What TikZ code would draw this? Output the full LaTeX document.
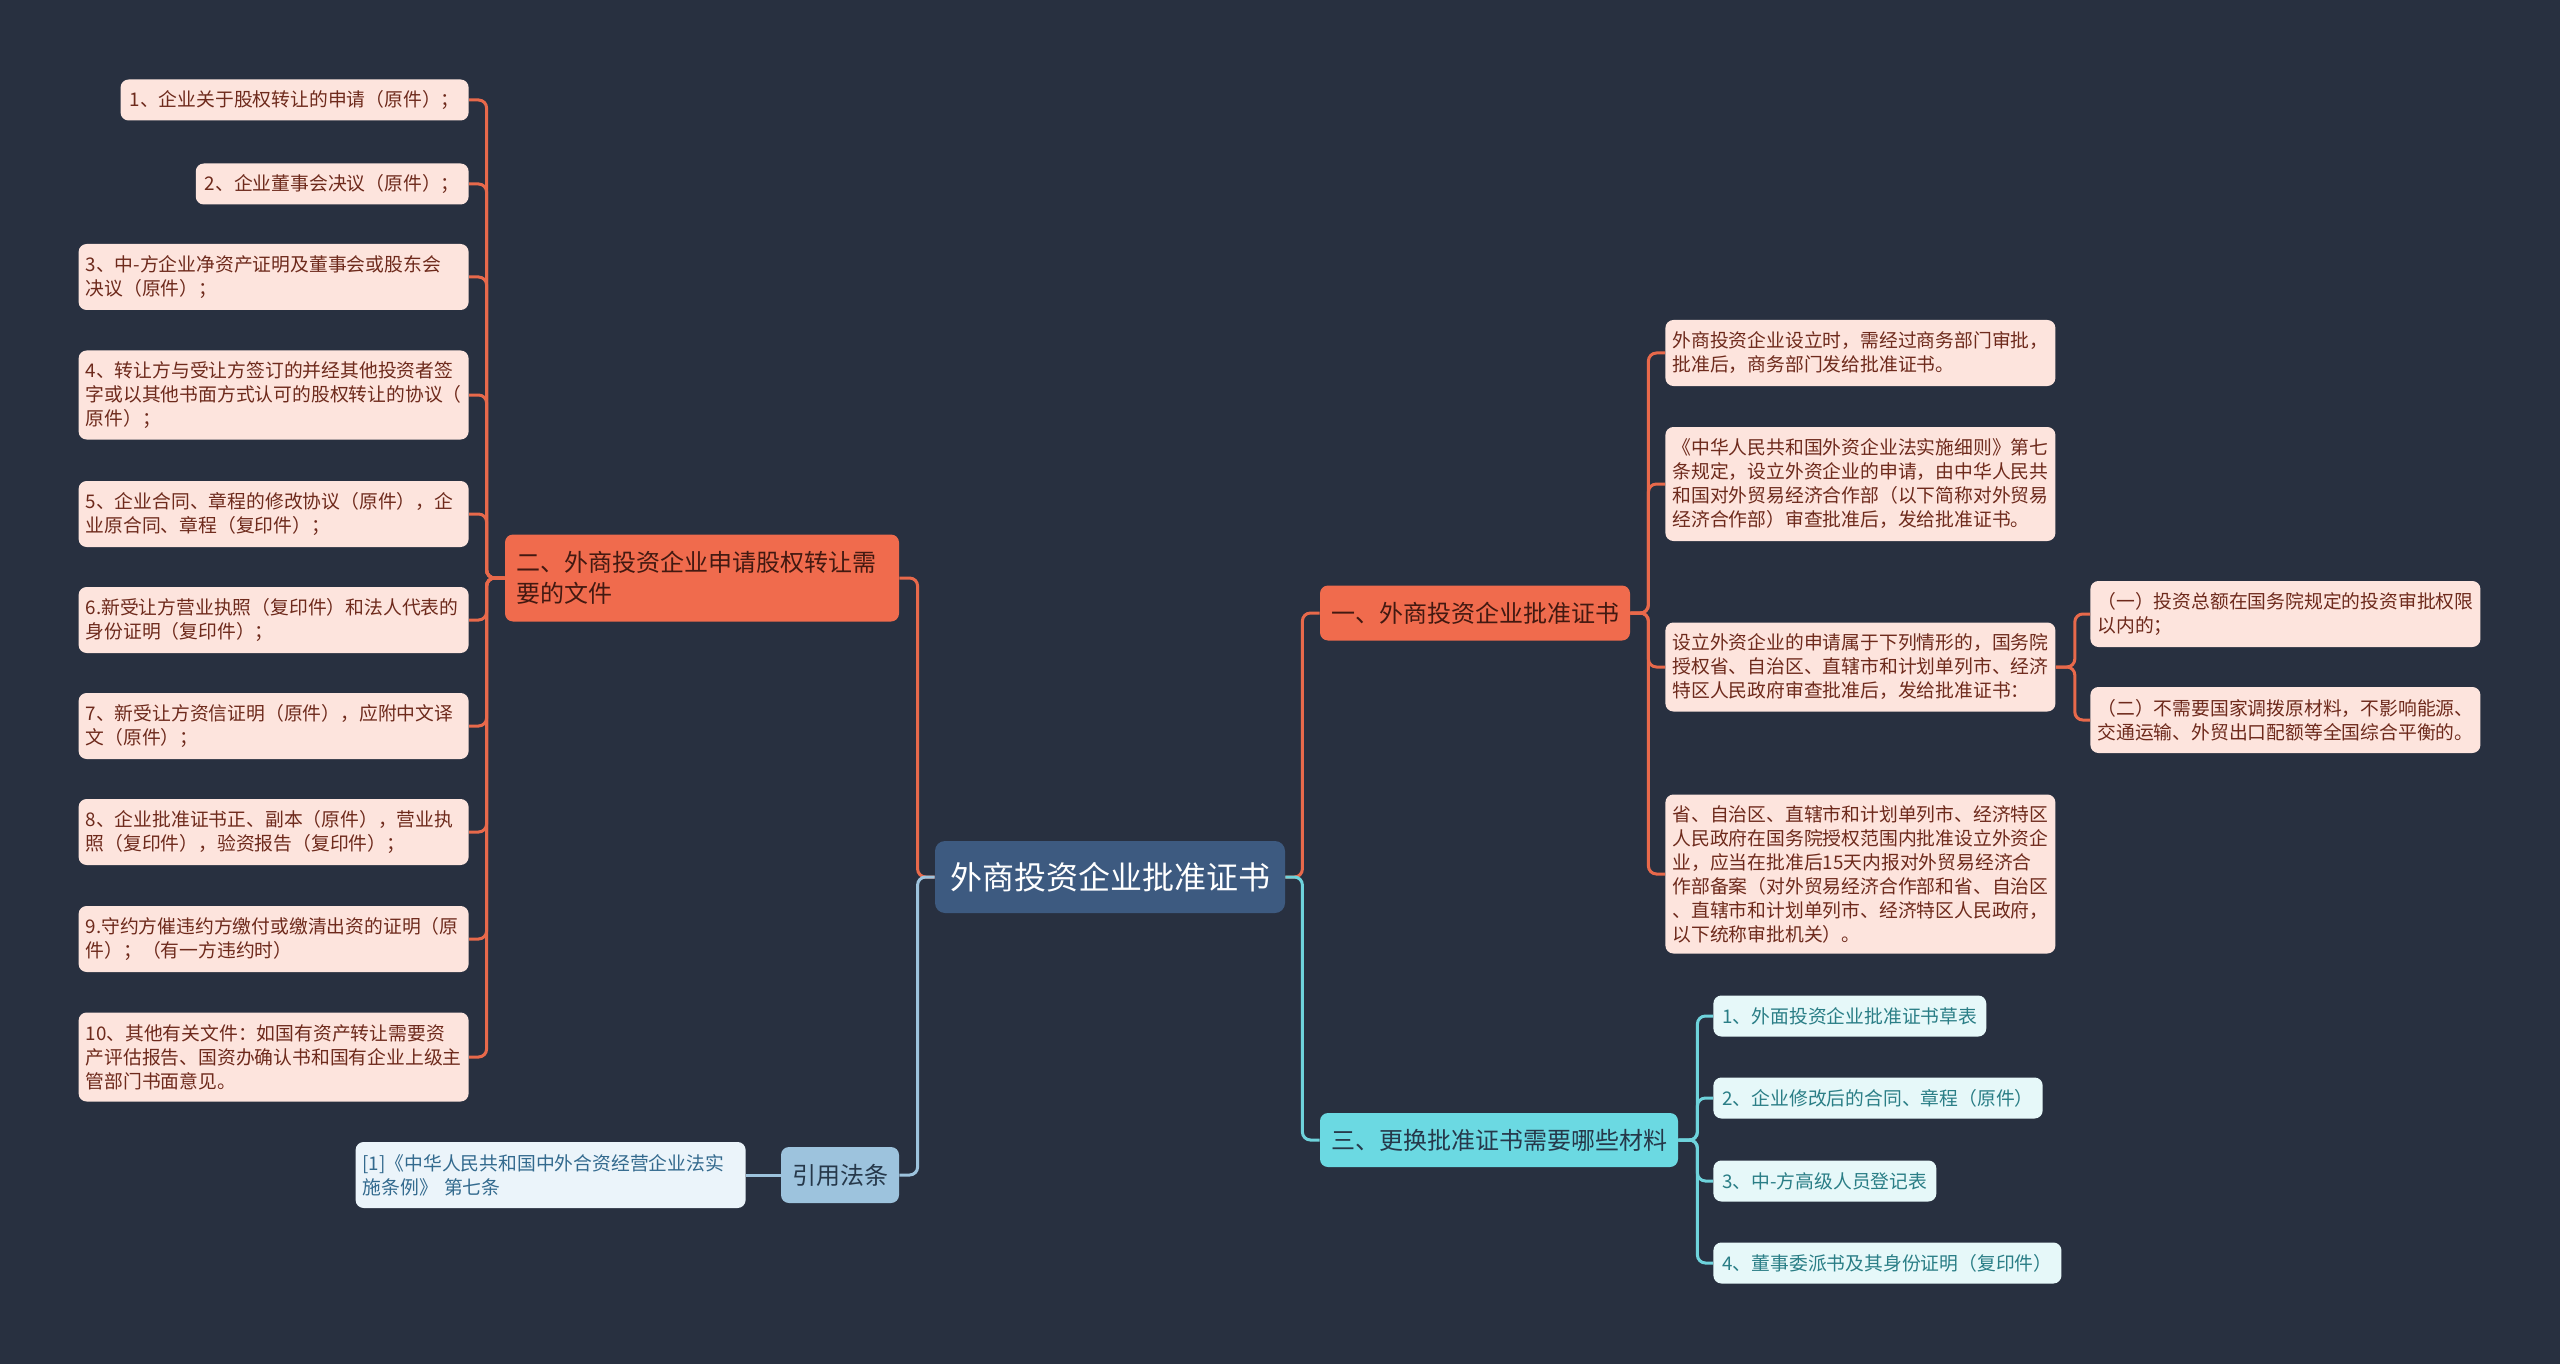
\documentclass[tikz,border=0pt]{standalone}
\usepackage{fontspec}
\newfontfamily\cjk{Noto Sans CJK SC}
\usepackage{tikz}
\definecolor{bgdark}{HTML}{283040}
\definecolor{leaffill}{HTML}{FDE4DD}
\definecolor{leaftext}{HTML}{6E2A1C}
\definecolor{lineorange}{HTML}{E8694B}
\definecolor{topicorange}{HTML}{F06B4D}
\definecolor{rootblue}{HTML}{3D5A80}
\definecolor{cyanfill}{HTML}{E6F8F9}
\definecolor{cyantext}{HTML}{2A7E86}
\definecolor{cyanline}{HTML}{6ED3DC}
\definecolor{topiccyan}{HTML}{6BD9E2}
\definecolor{lawfill}{HTML}{9DC3DD}
\definecolor{lawtext}{HTML}{26384A}
\definecolor{lawcfill}{HTML}{EBF4FA}
\definecolor{lawctext}{HTML}{336A8E}

\begin{document}
\begin{tikzpicture}[x=0.5pt, y=-0.5pt,
  box/.style={rounded corners=4pt, inner xsep=4.5pt, inner ysep=2pt, align=left, font=\cjk\fontsize{9.4}{12}\selectfont},
  leaf/.style={box, fill=leaffill, text=leaftext},
  cyanleaf/.style={box, fill=cyanfill, text=cyantext},
  wide/.style={text width=188pt, inner xsep=3.5pt},
  h1/.style={minimum height=20.5pt},
  h2/.style={minimum height=33pt},
  h3/.style={minimum height=44.5pt},
  h4/.style={minimum height=57pt},
  h6/.style={minimum height=79.5pt},
  topic/.style={rounded corners=4pt, inner xsep=5.5pt, inner ysep=2pt, align=left, font=\cjk\fontsize{12}{15.5}\selectfont},
  link/.style={line width=1.5pt, rounded corners=4pt}
]
\fill[bgdark] (0,0) rectangle (2560,1364);
\useasboundingbox (0,0) rectangle (2560,1364);

\node[box, fill=rootblue, text=white, rounded corners=5pt, inner xsep=7.5pt, minimum height=36pt, font=\cjk\fontsize{16}{19}\selectfont] (root) at (1110,877) {外商投资企业批准证书};

\node[topic, fill=topicorange, text=leaftext!60!black, text width=186pt, minimum height=43.5pt] (n2) at (702,578) {二、外商投资企业申请股权转让需\\要的文件};
\node[leaf, h1, anchor=east] (l1) at (469,100) {1、企业关于股权转让的申请（原件）；};
\node[leaf, h1, anchor=east] (l2) at (469,184) {2、企业董事会决议（原件）；};
\node[leaf, wide, h2, anchor=east] (l3) at (469,277) {3、中-方企业净资产证明及董事会或股东会\\决议（原件）；};
\node[leaf, wide, h3, anchor=east] (l4) at (469,395) {4、转让方与受让方签订的并经其他投资者签\\字或以其他书面方式认可的股权转让的协议（\\原件）；};
\node[leaf, wide, h2, anchor=east] (l5) at (469,514) {5、企业合同、章程的修改协议（原件），企\\业原合同、章程（复印件）；};
\node[leaf, wide, h2, anchor=east] (l6) at (469,620) {6.新受让方营业执照（复印件）和法人代表的\\身份证明（复印件）；};
\node[leaf, wide, h2, anchor=east] (l7) at (469,726) {7、新受让方资信证明（原件），应附中文译\\文（原件）；};
\node[leaf, wide, h2, anchor=east] (l8) at (469,832) {8、企业批准证书正、副本（原件），营业执\\照（复印件），验资报告（复印件）；};
\node[leaf, wide, h2, anchor=east] (l9) at (469,939) {9.守约方催违约方缴付或缴清出资的证明（原\\件）；（有一方违约时）};
\node[leaf, wide, h3, anchor=east] (l10) at (469,1057) {10、其他有关文件：如国有资产转让需要资\\产评估报告、国资办确认书和国有企业上级主\\管部门书面意见。};

\node[topic, fill=lawfill, text=lawtext, minimum height=28pt] (law) at (840,1175) {引用法条};
\node[box, wide, h2, fill=lawcfill, text=lawctext, anchor=east] (lawc) at (746,1175) {[1]《中华人民共和国中外合资经营企业法实\\施条例》 第七条};

\node[topic, fill=topicorange, text=leaftext!60!black, minimum height=27.5pt] (n1) at (1475,613) {一、外商投资企业批准证书};
\node[leaf, wide, h2, anchor=west] (c1) at (1665,353) {外商投资企业设立时，需经过商务部门审批，\\批准后，商务部门发给批准证书。};
\node[leaf, wide, h4, anchor=west] (c2) at (1665,484) {《中华人民共和国外资企业法实施细则》第七\\条规定，设立外资企业的申请，由中华人民共\\和国对外贸易经济合作部（以下简称对外贸易\\经济合作部）审查批准后，发给批准证书。};
\node[leaf, wide, h3, anchor=west] (c3) at (1665,667) {设立外资企业的申请属于下列情形的，国务院\\授权省、自治区、直辖市和计划单列市、经济\\特区人民政府审查批准后，发给批准证书：};
\node[leaf, wide, h6, anchor=west] (c4) at (1665,874) {省、自治区、直辖市和计划单列市、经济特区\\人民政府在国务院授权范围内批准设立外资企\\业，应当在批准后15天内报对外贸易经济合\\作部备案（对外贸易经济合作部和省、自治区\\、直辖市和计划单列市、经济特区人民政府，\\以下统称审批机关）。};
\node[leaf, wide, h2, anchor=west] (s1) at (2090,614) {（一）投资总额在国务院规定的投资审批权限\\以内的；};
\node[leaf, wide, h2, anchor=west] (s2) at (2090,720) {（二）不需要国家调拨原材料，不影响能源、\\交通运输、外贸出口配额等全国综合平衡的。};

\node[topic, fill=topiccyan, text=lawtext, minimum height=27pt] (n3) at (1499,1140) {三、更换批准证书需要哪些材料};
\node[cyanleaf, h1, anchor=west] (t1) at (1713,1016) {1、外面投资企业批准证书草表};
\node[cyanleaf, h1, anchor=west] (t2) at (1713,1098) {2、企业修改后的合同、章程（原件）};
\node[cyanleaf, h1, anchor=west] (t3) at (1713,1181) {3、中-方高级人员登记表};
\node[cyanleaf, h1, anchor=west] (t4) at (1713,1263) {4、董事委派书及其身份证明（复印件）};

\draw[link, lineorange] (root.west) -- ++(-17,0) |- (n2.east);
\draw[link, lawfill] (root.west) -- ++(-17,0) |- (law.east);
\draw[link, lawfill] (law.west) -- (lawc.east);
\foreach \i in {1,...,10}
  \draw[link, lineorange] (n2.west) -- ++(-18,0) |- (l\i.east);
\draw[link, lineorange] (root.east) -- ++(17,0) |- (n1.west);
\draw[link, cyanline] (root.east) -- ++(17,0) |- (n3.west);
\foreach \i in {1,...,4}
  \draw[link, lineorange] (n1.east) -- ++(18,0) |- (c\i.west);
\foreach \i in {1,2}
  \draw[link, lineorange] (c3.east) -- ++(19,0) |- (s\i.west);
\foreach \i in {1,...,4}
  \draw[link, cyanline] (n3.east) -- ++(19,0) |- (t\i.west);
\end{tikzpicture}
\end{document}
